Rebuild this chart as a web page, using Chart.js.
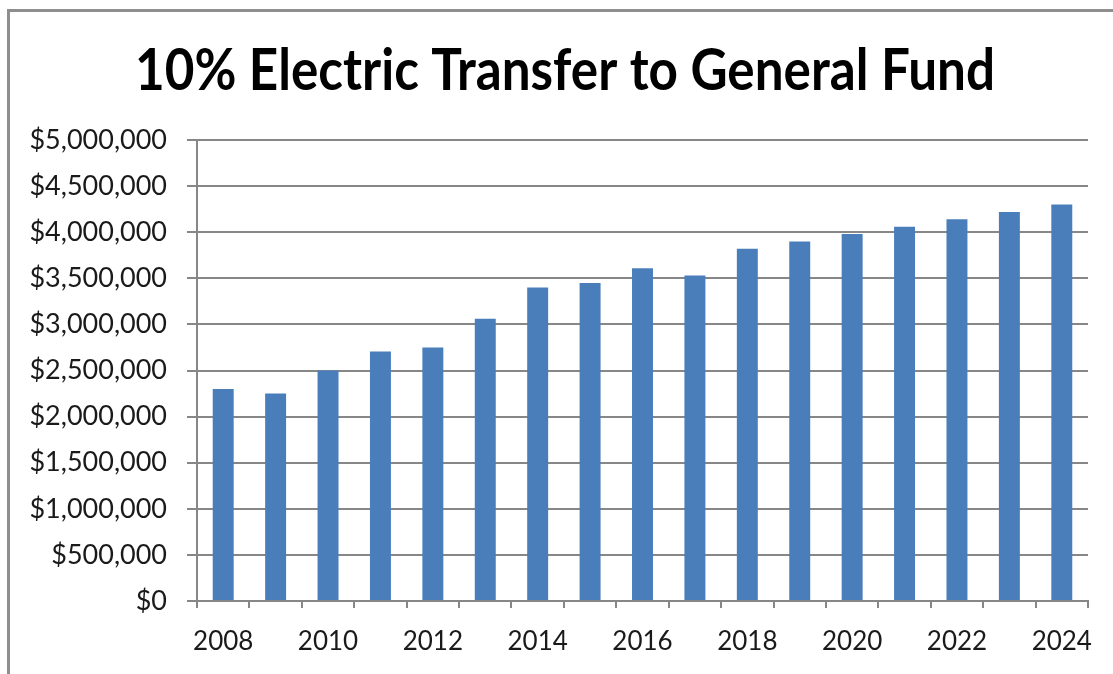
<!DOCTYPE html>
<html>
<head>
<meta charset="utf-8">
<script src="https://cdn.jsdelivr.net/npm/chart.js@4"></script>
<style>
  html, body { margin: 0; padding: 0; background: #fff; }
  #frame {
    position: absolute; left: 7px; top: 9px; right: 0; bottom: 0;
    border-left: 3px solid #8e8e8e; border-top: 3px solid #8e8e8e;
  }
  #wrap { position: absolute; left: 0; top: 0; width: 1113px; height: 674px; }
</style>
</head>
<body>
<div id="frame"></div>
<div id="wrap"><canvas id="transferChart"></canvas></div>
<script>
// yearly 10% transfer from the electric utility
const chartTitle = "10% Electric Transfer to General Fund";
const years = ["2008", "2009", "2010", "2011", "2012", "2013", "2014", "2015", "2016",
               "2017", "2018", "2019", "2020", "2021", "2022", "2023", "2024"];
const transfers = [2300000, 2250000, 2500000, 2705000, 2750000, 3060000, 3400000, 3450000, 3610000,
                   3530000, 3820000, 3900000, 3980000, 4060000, 4140000, 4220000, 4300000];
const yTicks = [0, 500000, 1000000, 1500000, 2000000, 2500000, 3000000, 3500000, 4000000, 4500000, 5000000];

const gridGray = "#878787";
const textColor = "#1a1a1a";

function money(v) {
  return "$" + Number(v).toLocaleString("en-US");
}

// heading drawn by hand so it can sit a little right of the canvas centre
// and be squeezed to a narrower, Calibri-like width
const headingPlugin = {
  id: "heading",
  afterDraw: function (chart) {
    const c = chart.ctx;
    c.save();
    c.font = "bold 57px Lato";
    c.fillStyle = "#000";
    c.textBaseline = "alphabetic";
    const w = c.measureText(chartTitle).width;
    const squeeze = 860 / w;
    c.translate(565, 90);
    c.scale(squeeze, 1);
    c.textAlign = "center";
    c.fillText(chartTitle, 0, 0);
    c.restore();
  }
};

const ctx = document.getElementById("transferChart");
new Chart(ctx, {
  type: "bar",
  data: {
    labels: years,
    datasets: [
      {
        label: "Transfer",
        data: transfers,
        backgroundColor: "#4a7ebb",
        borderWidth: 0,
        categoryPercentage: 1.0,
        barPercentage: 0.4
      }
    ]
  },
  plugins: [headingPlugin],
  options: {
    responsive: true,
    maintainAspectRatio: false,
    animation: false,
    layout: { padding: { left: 0, right: 25, top: 140, bottom: 0 } },
    plugins: {
      legend: { display: false },
      tooltip: { enabled: false },
      title: { display: false }
    },
    scales: {
      x: {
        offset: true,
        grid: {
          offset: true,
          drawOnChartArea: false,
          drawTicks: true,
          tickLength: 7,
          color: gridGray,
          lineWidth: 2
        },
        border: { color: gridGray, width: 2 },
        ticks: {
          autoSkip: false,
          maxRotation: 0,
          padding: 18,
          color: textColor,
          font: { family: "Lato", size: 26 },
          callback: function (value, index) {
            return index % 2 === 0 ? years[index] : "";
          }
        },
        afterFit: function (scale) { scale.height = 674 - 601; }
      },
      y: {
        min: 0,
        max: 5000000,
        afterBuildTicks: function (scale) {
          scale.ticks = yTicks.map(function (v) { return { value: v }; });
        },
        grid: {
          color: gridGray,
          lineWidth: 2,
          tickLength: 10
        },
        border: { color: gridGray, width: 2 },
        ticks: {
          padding: 20,
          color: textColor,
          font: { family: "Lato", size: 27 },
          callback: function (value) { return money(value); }
        },
        afterFit: function (scale) { scale.width = 197; }
      }
    }
  }
});
</script>
</body>
</html>
